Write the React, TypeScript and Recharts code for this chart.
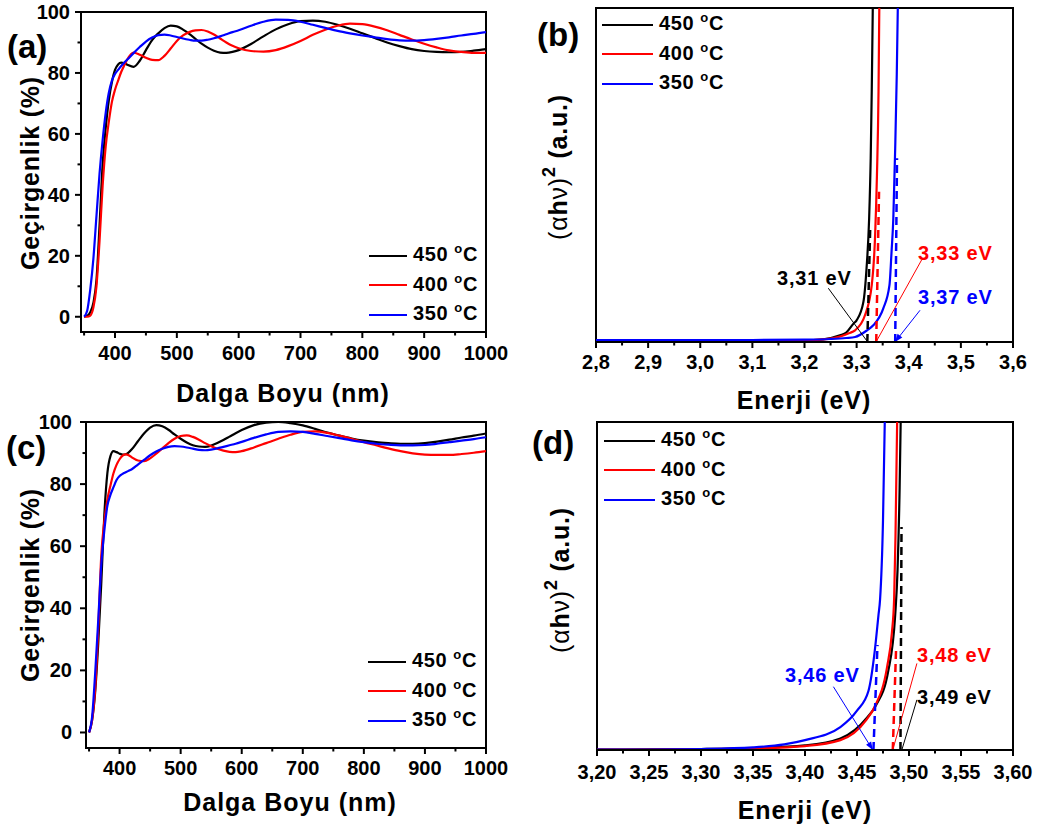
import { LineChart, Line, XAxis, YAxis, ReferenceLine, ReferenceArea, Legend } from "recharts"

const FONT = "'Liberation Sans', Arial, Helvetica, sans-serif"

const temps = ["450", "400", "350"]
const colors = ["#000000", "#ff0000", "#0000ff"]

// transmittance spectra, panels (a) and (c) share the wavelength grid
const wavelengths = [
  350, 355, 360, 365, 370, 375, 380, 385, 390, 395, 400, 405, 410, 415, 420,
  430, 440, 450, 460, 470, 480, 490, 500, 510, 520, 530, 540, 550, 560, 570, 580, 590, 600,
  620, 640, 660, 680, 700, 720, 740, 760, 780, 800, 820, 840, 860, 880, 900, 920, 940, 960, 980, 1000,
]
const transA450 = [
  0, 0.3, 1.5, 4.5, 12, 30, 50, 62, 71, 77, 81, 82.8, 83.4, 83.2, 82.7,
  82, 84, 87.5, 90.8, 93, 94.7, 95.5, 95.3, 94.2, 92.8, 91.2, 89.6, 88.3, 87.3, 86.7, 86.6, 86.9, 87.5,
  89.5, 92, 94.3, 96, 97, 97.2, 96.8, 95.8, 94.5, 93, 91.5, 90, 88.8, 87.8, 87.2, 86.9, 86.8, 86.9, 87.3, 87.8,
]
const transA400 = [
  0, 0, 0.4, 3, 10, 25, 43, 56, 64, 70.5, 74.5, 77.5, 80.3, 82.5, 84.5,
  86.7, 86, 85, 84.3, 84.2, 85.6, 88, 90.5, 92.3, 93.4, 94, 94.1, 93.6, 92.6, 91.3, 90, 88.9, 88.1,
  87.2, 87, 87.5, 88.8, 90.5, 92.5, 94.2, 95.5, 96.2, 96, 95.2, 94, 92.5, 91, 89.6, 88.4, 87.4, 86.9, 86.6, 86.6,
]
const transA350 = [
  0, 2, 9, 19, 33, 47, 58, 67, 73.5, 77.5, 79.7, 81, 82.3, 83.4, 84.4,
  86.5, 88.5, 90.3, 91.6, 92.4, 92.6, 92.3, 91.8, 91.3, 90.9, 90.6, 90.6, 90.9, 91.4, 92, 92.7, 93.4, 94,
  95.5, 96.8, 97.5, 97.4, 96.8, 95.8, 94.8, 93.8, 93, 92.3, 91.7, 91.1, 90.7, 90.6, 90.8, 91.2, 91.7, 92.3, 92.8, 93.4,
]
const transC450 = [
  0, 4, 13, 28.5, 48, 70, 83.5, 89, 90.6, 90.3, 89.8, 89.5, 89.6, 90.2, 91.2,
  93.8, 96.3, 98.2, 99, 98.6, 97.5, 96, 94.6, 93.4, 92.5, 92.1, 92, 92.4, 93.2, 94.2, 95.3, 96.4, 97.4,
  99, 99.8, 100, 99.6, 98.9, 97.8, 96.6, 95.6, 94.7, 94, 93.5, 93.2, 93, 93, 93.2, 93.7, 94.3, 95, 95.6, 96.3,
]
const transC400 = [
  0, 4, 14, 33, 57, 68, 75, 79.5, 83.5, 86.2, 88, 89.2, 89.6, 89.3, 88.6,
  87.6, 87.4, 88.3, 89.8, 91.5, 93.2, 94.6, 95.5, 95.7, 95.2, 94.3, 93.2, 92.2, 91.4, 90.8, 90.4, 90.3, 90.6,
  91.8, 93.2, 94.6, 95.9, 96.8, 97, 96.5, 95.6, 94.6, 93.5, 92.5, 91.5, 90.6, 89.9, 89.5, 89.4, 89.4, 89.7, 90.1, 90.6,
]
const transC350 = [
  0, 5, 19, 36, 54, 65, 73, 76.5, 79, 81.3, 82.6, 83.3, 83.8, 84.3, 84.8,
  86.3, 87.8, 89.3, 90.5, 91.4, 92, 92.2, 92.1, 91.8, 91.4, 91, 90.9, 91.1, 91.5, 92, 92.5, 93, 93.6,
  94.9, 96, 96.8, 97, 96.8, 96.2, 95.5, 94.8, 94.1, 93.5, 93, 92.7, 92.5, 92.5, 92.6, 93, 93.5, 94, 94.5, 95.1,
]

// Tauc plots, panel (b)
const energyB450 = [3.1, 3.15, 3.2, 3.236, 3.268, 3.28, 3.294, 3.3, 3.313, 3.319, 3.324, 3.327, 3.329, 3.331]
const taucB450 = [0.2, 0.3, 0.5, 0.8, 2, 2.8, 5.5, 6.5, 12, 22, 37, 55, 75, 100]
const energyB400 = [3.1, 3.15, 3.2, 3.25, 3.27, 3.285, 3.297, 3.316, 3.329, 3.3355, 3.339, 3.342, 3.3435]
const taucB400 = [0.2, 0.3, 0.45, 1, 1.7, 2.6, 3.5, 8, 17, 32, 50, 75, 100]
const energyB350 = [2.8, 2.9, 3.0, 3.1, 3.2, 3.25, 3.28, 3.297, 3.32, 3.332, 3.351, 3.363, 3.367, 3.3704, 3.374, 3.377, 3.379]
const taucB350 = [0.6, 0.6, 0.6, 0.6, 0.7, 0.9, 1.2, 1.5, 3.5, 5, 10, 17, 27, 37, 58, 80, 100]

// Tauc plots, panel (d)
const energyD450 = [3.2, 3.25, 3.3, 3.35, 3.4, 3.434, 3.46, 3.468, 3.48, 3.4867, 3.489, 3.491, 3.492]
const taucD450 = [0.1, 0.2, 0.3, 0.6, 1.4, 3.5, 10, 13.5, 24, 41, 55, 80, 100]
const energyD400 = [3.2, 3.25, 3.3, 3.35, 3.4, 3.434, 3.459, 3.467, 3.479, 3.4835, 3.4857, 3.487, 3.4886]
const taucD400 = [0.1, 0.15, 0.25, 0.5, 1.2, 3, 9.2, 13.2, 25.4, 35.6, 46, 65, 100]
const energyD350 = [3.2, 3.25, 3.3, 3.35, 3.38, 3.4, 3.434, 3.45, 3.461, 3.467, 3.4706, 3.4722, 3.475, 3.4767]
const taucD350 = [0.1, 0.15, 0.3, 0.8, 1.7, 3, 7, 12, 18, 30, 41, 46, 70, 100]

// linear-fit tangents (dashed) and leader lines [x1, y1, x2, y2]
const tangentsB = [[3.3205, 0, 3.3262, 35], [3.3376, 0, 3.343, 45], [3.374, 0, 3.3775, 55]]
const leadersB = [[3.2457, 16.1, 3.3212, 0], [3.4248, 24.6, 3.3372, 0], [3.4216, 9.5, 3.3736, 0]]
const tangentsD = [[3.4918, 0, 3.4928, 68], [3.4844, 0, 3.4876, 31], [3.4658, 0, 3.4697, 32]]
const leadersD = [[3.5076, 15.3, 3.4931, 0], [3.5076, 26.4, 3.4844, 0], [3.4273, 19.3, 3.4652, 0]]

// axis ticks
const transXMajor = [400, 500, 600, 700, 800, 900, 1000]
const transXMinor = [350, 450, 550, 650, 750, 850, 950]
const transYMajor = [0, 20, 40, 60, 80, 100]
const transYMinor = [10, 30, 50, 70, 90]
const bXMajor = [2.8, 2.9, 3.0, 3.1, 3.2, 3.3, 3.4, 3.5, 3.6]
const bXMinor = [2.85, 2.95, 3.05, 3.15, 3.25, 3.35, 3.45, 3.55]
const dXMajor = [3.2, 3.25, 3.3, 3.35, 3.4, 3.45, 3.5, 3.55, 3.6]
const dXMinor = [3.225, 3.275, 3.325, 3.375, 3.425, 3.475, 3.525, 3.575]

const toRows = (xs: number[], ys: number[]) => xs.map((x, i) => ({ x, y: ys[i] }))
const allTicks = (a: number[], b: number[]) => [...a, ...b].sort((p, q) => p - q)
const isMajor = (majors: number[], v: number) => majors.some((m) => Math.abs(m - v) < 1e-6)

const makeXTick = (majors: number[], digits: number, dy: number) => (props: any) => {
  const { x, y, payload } = props
  const v = payload.value
  const major = isMajor(majors, v)
  return (
    <g>
      <line x1={x} x2={x} y1={y} y2={y + (major ? 6 : 3.5)} stroke="#000" strokeWidth={2} />
      {major && (
        <text x={x} y={y + dy} textAnchor="middle" fontFamily={FONT} fontWeight="bold" fontSize={20} fill="#000">
          {v.toFixed(digits).replace(".", ",")}
        </text>
      )}
    </g>
  )
}

const makeYTick = (majors: number[], gap: number) => (props: any) => {
  const { x, y, payload } = props
  const v = payload.value
  const major = isMajor(majors, v)
  return (
    <g>
      <line x1={x} x2={x - (major ? 6 : 3.5)} y1={y} y2={y} stroke="#000" strokeWidth={2} />
      {major && (
        <text x={x - gap} y={y + 7} textAnchor="end" fontFamily={FONT} fontWeight="bold" fontSize={20} fill="#000">
          {v}
        </text>
      )}
    </g>
  )
}

const TempLegend = ({ payload, lineWidth }: any) => {
  const items = [...(payload || [])].sort((a: any, b: any) => temps.indexOf(a.value) - temps.indexOf(b.value))
  return (
    <div style={{ fontFamily: FONT, fontWeight: 700, fontSize: 20, color: "#000", letterSpacing: 0.6 }}>
      {items.map((entry: any) => (
        <div key={entry.value} style={{ display: "flex", alignItems: "center", height: 29.5 }}>
          <div style={{ width: lineWidth, height: 2, background: entry.color, marginRight: 6 }} />
          <span style={{ lineHeight: "20px", whiteSpace: "nowrap" }}>
            {entry.value} <span style={{ fontSize: 13, position: "relative", top: -8 }}>o</span>C
          </span>
        </div>
      ))}
    </div>
  )
}

const ArrowShape = (props: any) => {
  const { x1, y1, x2, y2, stroke } = props
  const ang = Math.atan2(y2 - y1, x2 - x1)
  const bx = x2 - 8 * Math.cos(ang)
  const by = y2 - 8 * Math.sin(ang)
  const s = Math.sin(ang)
  const c = Math.cos(ang)
  const pts = `${x2},${y2} ${bx - 3 * s},${by + 3 * c} ${bx + 3 * s},${by - 3 * c}`
  return (
    <g>
      <line x1={x1} y1={y1} x2={x2} y2={y2} stroke={stroke} strokeWidth={1} />
      <polygon points={pts} fill={stroke} />
    </g>
  )
}

const frameProps = { fill: "none", fillOpacity: 0, stroke: "#000", strokeWidth: 2 }
const axisLine = { stroke: "#000", strokeWidth: 2 }

function TransPanel({ left, top, height, yWidth, xHeight, xDy, yGap, series, legendLeft, legendTop }: any) {
  const xDomain = [345, 1000]
  const yDomain = [-5, 100]
  return (
    <div style={{ position: "absolute", left, top }}>
      <LineChart width={530} height={height} margin={{ top: 12, right: 44, left: 0, bottom: 0 }}>
        <XAxis
          type="number"
          dataKey="x"
          domain={xDomain}
          allowDataOverflow
          ticks={allTicks(transXMajor, transXMinor)}
          interval={0}
          tickSize={0}
          tickMargin={0}
          tickLine={false}
          axisLine={axisLine}
          height={xHeight}
          tick={makeXTick(transXMajor, 0, xDy)}
        />
        <YAxis
          type="number"
          domain={yDomain}
          allowDataOverflow
          ticks={allTicks(transYMajor, transYMinor)}
          interval={0}
          tickSize={0}
          tickMargin={0}
          tickLine={false}
          axisLine={axisLine}
          width={yWidth}
          tick={makeYTick(transYMajor, yGap)}
        />
        <ReferenceArea x1={xDomain[0]} x2={xDomain[1]} y1={yDomain[0]} y2={yDomain[1]} {...frameProps} />
        {series.map((ys: number[], i: number) => (
          <Line
            key={temps[i]}
            name={temps[i]}
            data={toRows(wavelengths, ys)}
            dataKey="y"
            type="monotone"
            stroke={colors[i]}
            strokeWidth={2.2}
            dot={false}
            activeDot={false}
            isAnimationActive={false}
          />
        ))}
        <Legend
          layout="vertical"
          verticalAlign="middle"
          align="center"
          wrapperStyle={{ left: legendLeft, top: legendTop, width: "auto" }}
          content={(p: any) => <TempLegend payload={p.payload} lineWidth={38} />}
        />
      </LineChart>
    </div>
  )
}

function TaucPanel({ left, top, marginTop, marginLeft, xHeight, xDy, xDomain, xMajor, xMinor, series, tangents, leaders, legendLeft, legendTop, arrowIndex }: any) {
  const yDomain = [0, 100]
  return (
    <div style={{ position: "absolute", left, top }}>
      <LineChart width={523} height={390} margin={{ top: marginTop, right: 30, left: marginLeft, bottom: 0 }}>
        <XAxis
          type="number"
          dataKey="x"
          domain={xDomain}
          allowDataOverflow
          ticks={allTicks(xMajor, xMinor)}
          interval={0}
          tickSize={0}
          tickMargin={0}
          tickLine={false}
          axisLine={axisLine}
          height={xHeight}
          tick={makeXTick(xMajor, xMajor[1] - xMajor[0] < 0.09 ? 2 : 1, xDy)}
        />
        <YAxis type="number" domain={yDomain} allowDataOverflow hide />
        <ReferenceArea x1={xDomain[0]} x2={xDomain[1]} y1={yDomain[0]} y2={yDomain[1]} {...frameProps} />
        {series.map((s: number[][], i: number) => (
          <Line
            key={temps[i]}
            name={temps[i]}
            data={toRows(s[0], s[1])}
            dataKey="y"
            type="monotone"
            stroke={colors[i]}
            strokeWidth={2.2}
            dot={false}
            activeDot={false}
            isAnimationActive={false}
          />
        ))}
        {tangents.map((t: number[], i: number) => (
          <ReferenceLine
            key={`t${i}`}
            segment={[{ x: t[0], y: t[1] }, { x: t[2], y: t[3] }]}
            stroke={colors[i]}
            strokeWidth={2.5}
            strokeDasharray="8 5"
          />
        ))}
        {leaders.map((t: number[], i: number) => (
          <ReferenceLine
            key={`l${i}`}
            segment={[{ x: t[0], y: t[1] }, { x: t[2], y: t[3] }]}
            stroke={colors[i]}
            strokeWidth={1}
            shape={i === arrowIndex ? ArrowShape : undefined}
          />
        ))}
        <Legend
          layout="vertical"
          verticalAlign="middle"
          align="center"
          wrapperStyle={{ left: legendLeft, top: legendTop, width: "auto" }}
          content={(p: any) => <TempLegend payload={p.payload} lineWidth={51} />}
        />
      </LineChart>
    </div>
  )
}

const txt = { fontFamily: FONT, fontWeight: "bold" as const, fill: "#000" }

function Overlay() {
  const ytitle = (x: number, y: number) => (
    <text transform={`translate(${x},${y}) rotate(-90)`} textAnchor="middle" dominantBaseline="central" fontSize={25} letterSpacing={0.8} {...txt}>
      Geçirgenlik (%)
    </text>
  )
  const tauc = (x: number, y: number) => (
    <text transform={`translate(${x},${y}) rotate(-90)`} textAnchor="middle" dominantBaseline="central" fontSize={25} letterSpacing={0.8} {...txt}>
      <tspan fontWeight="normal">(α</tspan>
      <tspan>h</tspan>
      <tspan fontWeight="normal">ν)</tspan>
      <tspan dy={-9} fontSize={18}>2</tspan>
      <tspan dy={9}> (a.u.)</tspan>
    </text>
  )
  const xtitle = (x: number, y: number, s: string) => (
    <text x={x} y={y} textAnchor="middle" dominantBaseline="central" fontSize={25} letterSpacing={1} {...txt}>
      {s}
    </text>
  )
  const tag = (x: number, y: number, s: string) => (
    <text x={x} y={y} dominantBaseline="central" fontSize={33} {...txt}>
      {s}
    </text>
  )
  const note = (x: number, y: number, s: string, c: string) => (
    <text x={x} y={y + 7} fontSize={20} letterSpacing={0.8} {...txt} fill={c}>
      {s}
    </text>
  )
  return (
    <svg width={1043} height={830} style={{ position: "absolute", left: 0, top: 0, pointerEvents: "none" }}>
      {tag(7, 46, "(a)")}
      {tag(537, 34, "(b)")}
      {tag(6, 447, "(c)")}
      {tag(532, 442, "(d)")}
      {ytitle(30, 173)}
      {ytitle(30, 585)}
      {tauc(558, 167)}
      {tauc(560, 580)}
      {xtitle(283, 393, "Dalga Boyu (nm)")}
      {xtitle(290, 802, "Dalga Boyu (nm)")}
      {xtitle(804, 400, "Enerji (eV)")}
      {xtitle(805, 810, "Enerji (eV)")}
      {note(777, 278, "3,31 eV", colors[0])}
      {note(918, 253, "3,33 eV", colors[1])}
      {note(918, 297, "3,37 eV", colors[2])}
      {note(785, 675, "3,46 eV", colors[2])}
      {note(917, 655, "3,48 eV", colors[1])}
      {note(917, 697, "3,49 eV", colors[0])}
    </svg>
  )
}

export default function App() {
  return (
    <div style={{ position: "absolute", left: 0, top: 0, width: 1043, height: 830, background: "#fff", overflow: "hidden" }}>
      <TransPanel
        left={0}
        top={0}
        height={380}
        yWidth={81}
        xHeight={48}
        xDy={28}
        yGap={11}
        series={[transA450, transA400, transA350]}
        legendLeft={369}
        legendTop={241}
      />
      <TransPanel
        left={0}
        top={410}
        height={390}
        yWidth={86}
        xHeight={52}
        xDy={27}
        yGap={14}
        series={[transC450, transC400, transC350]}
        legendLeft={368}
        legendTop={237}
      />
      <TaucPanel
        left={520}
        top={0}
        marginTop={8}
        marginLeft={76}
        xHeight={48}
        xDy={27}
        xDomain={[2.8, 3.6]}
        xMajor={bXMajor}
        xMinor={bXMinor}
        series={[[energyB450, taucB450], [energyB400, taucB400], [energyB350, taucB350]]}
        tangents={tangentsB}
        leaders={leadersB}
        arrowIndex={2}
        legendLeft={82}
        legendTop={10}
      />
      <TaucPanel
        left={520}
        top={410}
        marginTop={12}
        marginLeft={77}
        xHeight={50}
        xDy={29}
        xDomain={[3.2, 3.6]}
        xMajor={dXMajor}
        xMinor={dXMinor}
        series={[[energyD450, taucD450], [energyD400, taucD400], [energyD350, taucD350]]}
        tangents={tangentsD}
        leaders={leadersD}
        arrowIndex={2}
        legendLeft={84}
        legendTop={16}
      />
      <Overlay />
    </div>
  )
}
